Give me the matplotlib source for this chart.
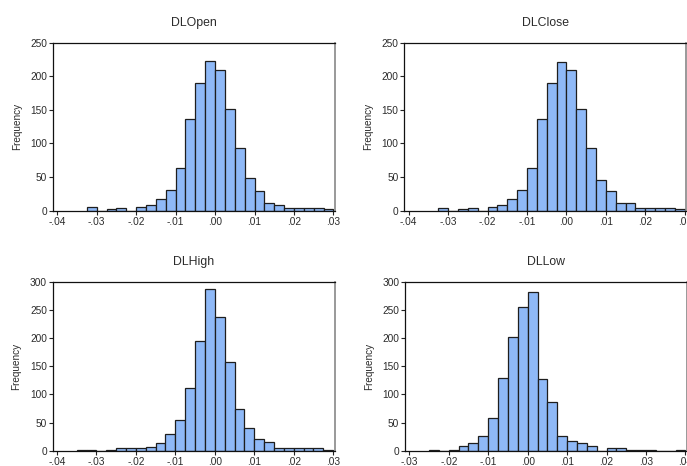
import matplotlib
matplotlib.use("Agg")
import matplotlib.pyplot as plt
import numpy as np
from matplotlib.ticker import FuncFormatter

plt.rcParams["font.family"] = ["Liberation Sans", "DejaVu Sans"]

BIN_W = 0.0025

# histogram counts, left edge of first bin
open_start = -0.0325
open_counts = [5, 0, 2, 4, 0, 6, 9, 17, 31, 64, 136, 190, 223, 210, 151, 94,
               49, 30, 12, 9, 4, 4, 4, 4, 2]

close_start = -0.0325
close_counts = [4, 0, 2, 4, 0, 6, 9, 17, 31, 64, 136, 190, 222, 210, 152, 94,
                46, 30, 12, 11, 4, 4, 4, 4, 2]

high_start = -0.035
high_counts = [2, 2, 0, 2, 4, 4, 4, 6, 13, 29, 54, 111, 195, 288, 238, 158,
               74, 41, 20, 15, 4, 4, 4, 4, 4, 2]

low_start = -0.025
low_counts = [2, 0, 2, 8, 13, 26, 58, 129, 202, 255, 282, 127, 87, 27, 18,
              13, 9, 0, 4, 4, 2, 2, 2, 0, 0, 2]

titles = ["DLOpen", "DLClose", "DLHigh", "DLLow"]
xlims = [(-0.0411, 0.0304), (-0.0411, 0.0304), (-0.0411, 0.0304), (-0.0311, 0.0404)]
ymax = [250, 250, 300, 300]

BAR_COLOR = "#8fb9f7"
EDGE = "#1e1e1e"
TXT = "#2b2b2b"


def fmt_tick(v, pos):
    s = f"{v:.2f}"
    if s.startswith("-0"):
        return "-" + s[2:]
    if s.startswith("0"):
        return s[1:]
    return s


fig = plt.figure(figsize=(6.87, 4.66), dpi=100)
rects = [
    [0.0771, 0.5479, 0.4105, 0.3605],
    [0.5885, 0.5479, 0.4105, 0.3605],
    [0.0767, 0.0328, 0.4105, 0.3620],
    [0.5895, 0.0328, 0.4105, 0.3620],
]
data = [(open_start, open_counts), (close_start, close_counts),
        (high_start, high_counts), (low_start, low_counts)]

for i, (start, counts) in enumerate(data):
    ax = fig.add_axes(rects[i])
    lefts = start + BIN_W * np.arange(len(counts))
    ax.bar(lefts, counts, width=BIN_W, align="edge", color=BAR_COLOR,
           edgecolor=EDGE, linewidth=0.9)
    lo, hi = xlims[i]
    ax.set_xlim(lo, hi)
    ax.set_ylim(0, ymax[i])
    ax.set_xticks(np.arange(np.ceil(lo * 100) / 100, hi + 1e-9, 0.01))
    ax.set_yticks(np.arange(0, ymax[i] + 1, 50))
    ax.xaxis.set_major_formatter(FuncFormatter(fmt_tick))
    ax.tick_params(axis="both", labelsize=7.3, labelcolor=TXT, length=3,
                   width=0.8, pad=1.2, color="#222222")
    ax.set_ylabel("Frequency", fontsize=7.2, color=TXT, labelpad=6)
    ax.set_title(titles[i], fontsize=8.8, color=TXT, pad=12)
    for side in ["left", "bottom", "top"]:
        ax.spines[side].set_color("#111111")
        ax.spines[side].set_linewidth(0.9)
    ax.spines["right"].set_color("#888888")
    ax.spines["right"].set_linewidth(1.2)

fig.savefig("out.png", dpi=100)
